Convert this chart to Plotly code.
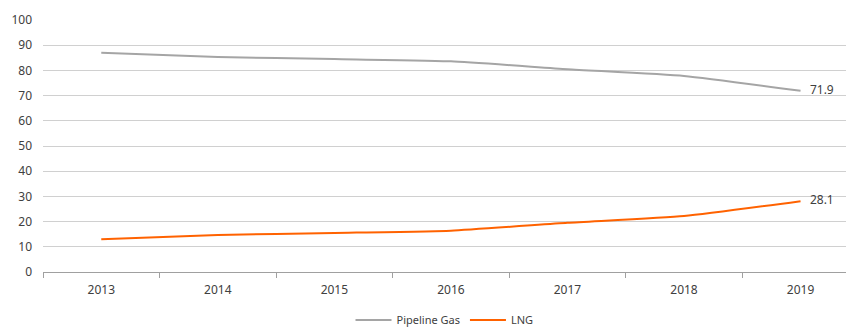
import plotly.graph_objects as go

years = ["2013", "2014", "2015", "2016", "2017", "2018", "2019"]
pipeline_gas = [87.0, 85.3, 84.5, 83.6, 80.5, 77.8, 71.9]
lng = [13.0, 14.7, 15.5, 16.4, 19.5, 22.2, 28.1]
y_ticks = [0, 10, 20, 30, 40, 50, 60, 70, 80, 90, 100]

GRAY = "#a5a5a5"
ORANGE = "#ff6200"
FONT = "Noto Sans"


def end_labels(values):
    # only the final year carries a value label
    return [""] * (len(values) - 1) + [f"   {values[-1]:.1f}"]


fig = go.Figure()
fig.add_trace(go.Scatter(
    x=years, y=pipeline_gas, name="Pipeline Gas", mode="lines+text",
    line=dict(color=GRAY, width=2, shape="spline", smoothing=0.5),
    text=end_labels(pipeline_gas), textposition="middle right",
    textfont=dict(color="#404040", size=12, family=FONT),
))
fig.add_trace(go.Scatter(
    x=years, y=lng, name="LNG", mode="lines+text",
    line=dict(color=ORANGE, width=2, shape="spline", smoothing=0.5),
    text=end_labels(lng), textposition="middle right",
    textfont=dict(color="#404040", size=12, family=FONT),
))

fig.update_layout(
    width=846, height=330,
    margin=dict(l=43, r=0, t=20, b=58, autoexpand=False),
    paper_bgcolor="white", plot_bgcolor="white",
    font=dict(family=FONT, size=12, color="#404040"),
    showlegend=True,
    legend=dict(
        orientation="h", x=0.5, xanchor="center", y=-0.19, yanchor="middle",
        font=dict(size=11, color="#404040"),
        traceorder="normal", itemwidth=36,
    ),
    xaxis=dict(
        type="category", range=[-0.5, 6.39],
        tickson="boundaries", ticks="outside", ticklen=5, tickcolor="#a0a0a0",
        ticklabelstandoff=7,
        showline=True, linecolor="#a0a0a0", linewidth=1,
        showgrid=False, zeroline=False,
        tickfont=dict(size=12, color="#404040"),
    ),
    yaxis=dict(
        range=[0, 100], tickvals=y_ticks,
        showgrid=True, gridcolor="#d0d0d0", gridwidth=1,
        zeroline=False, showline=False, ticks="",
        ticklabelstandoff=10,
        tickfont=dict(size=12, color="#404040"),
    ),
)

fig.write_html("out.html")
